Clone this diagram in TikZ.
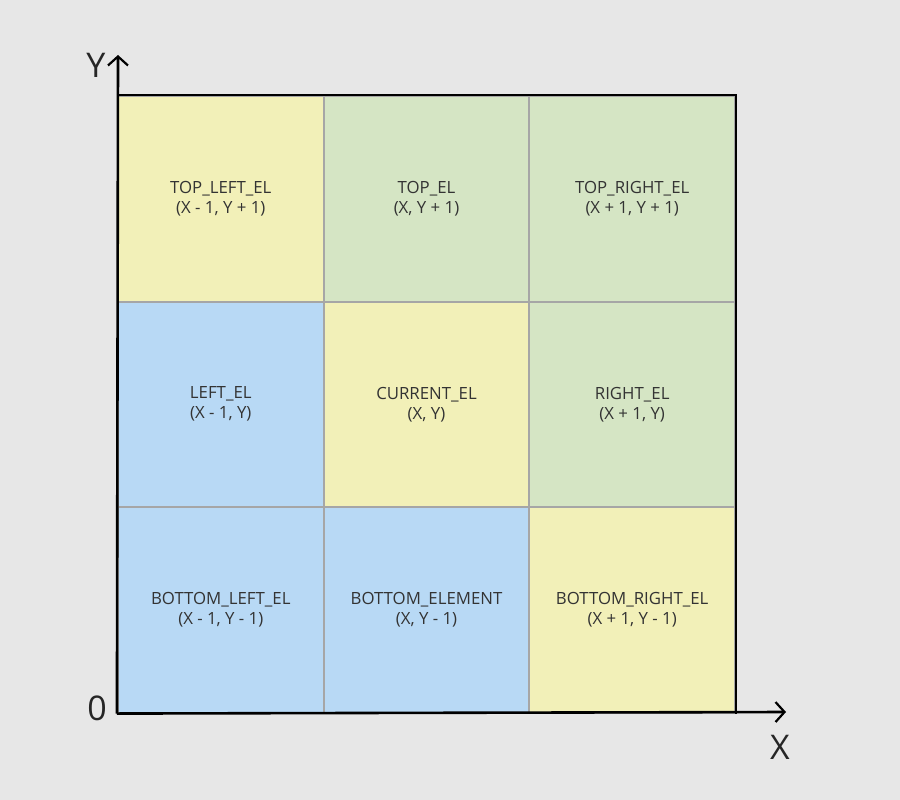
\documentclass[tikz,border=0pt]{standalone}
\usepackage{fontspec}
\setmainfont{Open Sans}
\usetikzlibrary{arrows.meta,positioning}
\definecolor{bgc}{HTML}{E7E7E7}
\definecolor{ylw}{HTML}{F2F0B8}
\definecolor{grn}{HTML}{D5E5C4}
\definecolor{blu}{HTML}{B8D9F5}
\definecolor{gridc}{HTML}{A6A6A6}
\definecolor{txtc}{HTML}{333333}
\tikzset{cell/.style={draw=gridc,line width=2pt,minimum width=205.7pt,minimum height=205.5pt,align=center,
  inner sep=0pt,text=txtc,font=\fontsize{16.8}{20}\selectfont},
 cy/.style={cell,fill=ylw},cg/.style={cell,fill=grn},cb/.style={cell,fill=blu},
 axis/.style={line width=2.6pt,-{Straight Barb[length=9pt,width=20pt,line width=2.2pt]}},
 albl/.style={font=\fontsize{34}{34}\selectfont,text=black!85}}
\begin{document}
\begin{tikzpicture}[x=1pt,y=-1pt]
\fill[bgc](0,0)rectangle(900,800);
\useasboundingbox(0,0)rectangle(900,800);
% grid of neighbours
\node[cy](tl) at(220.8,198.8){TOP\_LEFT\_EL\\(X - 1, Y + 1)};
\node[cg](t) at(426.5,198.8){TOP\_EL\\(X, Y + 1)};
\node[cg](tr) at(632.2,198.8){TOP\_RIGHT\_EL\\(X + 1, Y + 1)};
\node[cb](l) at(220.8,404.3){LEFT\_EL\\(X - 1, Y)};
\node[cy](c) at(426.5,404.3){CURRENT\_EL\\(X, Y)};
\node[cg](r) at(632.2,404.3){RIGHT\_EL\\(X + 1, Y)};
\node[cb](bl) at(220.8,609.8){BOTTOM\_LEFT\_EL\\(X - 1, Y - 1)};
\node[cb](b) at(426.5,609.8){BOTTOM\_ELEMENT\\(X, Y - 1)};
\node[cy](br) at(632.2,609.8){BOTTOM\_RIGHT\_EL\\(X + 1, Y - 1)};
\draw[line width=1.2pt](tl.north west)--(tr.north east)--(br.south east);
% axes
\coordinate(o) at(bl.south west);
\coordinate(ye) at(118,55);
\coordinate(xe) at(786,712);
\draw[axis](o)--(ye);
\draw[axis](o)--(xe);
\node[albl](ylab) at(96,65){Y};
\node[albl](zlab) at(97,708){0};
\node[albl](xlab) at(780,747){X};
\end{tikzpicture}
\end{document}
